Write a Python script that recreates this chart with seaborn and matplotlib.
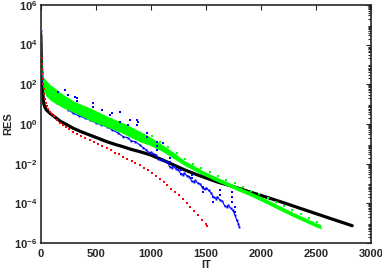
import numpy as np
import pandas as pd
import matplotlib
matplotlib.use("Agg")
import matplotlib.pyplot as plt
from matplotlib.ticker import LogLocator, NullFormatter, FixedLocator
import seaborn as sns

# Residual history, values are log10(RES)

black_it = [0, 5, 10, 15, 20, 27, 40, 52, 82, 120, 173, 230, 294, 370, 445, 520, 597, 680,
            748, 820, 900, 991, 1100, 1200, 1300, 1400, 1500, 1600, 1750, 1900, 2000, 2100,
            2200, 2350, 2500, 2650, 2830]
black_log = [4.5, 3.0, 2.3, 1.75, 1.4, 1.0, 0.8, 0.7, 0.54, 0.38, 0.15, -0.02, -0.22, -0.4,
             -0.56, -0.72, -0.89, -1.04, -1.15, -1.28, -1.40, -1.55, -1.80, -2.05, -2.30,
             -2.52, -2.72, -2.92, -3.16, -3.43, -3.6, -3.78, -3.96, -4.24, -4.52, -4.8, -5.13]

red_it = [0, 2, 4, 6, 8, 10, 13, 16, 20, 25, 30, 36, 45, 55, 68, 82, 100, 120, 145, 173,
          200, 230, 260, 294, 330, 365, 400, 445, 480, 520, 560, 597, 635, 675, 710, 748,
          785, 825, 860, 900, 940, 975, 1010, 1045, 1080, 1115, 1150, 1185, 1220, 1255,
          1290, 1325, 1360, 1395, 1430, 1465, 1500, 1510]
red_log = [4.7, 4.2, 3.7, 3.3, 3.0, 2.75, 2.5, 2.25, 2.0, 1.75, 1.5, 1.25, 1.05, 0.9, 0.75,
           0.62, 0.5, 0.38, 0.22, 0.05, -0.06, -0.17, -0.28, -0.39, -0.49, -0.59, -0.69,
           -0.81, -0.91, -1.02, -1.12, -1.23, -1.33, -1.44, -1.54, -1.65, -1.75, -1.86,
           -1.96, -2.07, -2.20, -2.32, -2.46, -2.61, -2.77, -2.93, -3.1, -3.27, -3.43,
           -3.6, -3.8, -3.98, -4.17, -4.38, -4.6, -4.82, -5.05, -5.12]

green_it = [0, 3, 6, 10, 15, 20, 30, 50, 80, 118, 160, 200, 250, 300, 375, 450, 525, 600,
            675, 750, 825, 900, 990, 1100, 1200, 1300, 1400, 1500, 1600, 1700, 1800, 1900,
            2000, 2100, 2200, 2300, 2400, 2500, 2545]
green_hi = [4.85, 4.2, 3.6, 3.0, 2.6, 2.4, 2.3, 2.18, 2.0, 1.85, 1.66, 1.5, 1.32, 1.15,
            0.97, 0.8, 0.6, 0.4, 0.22, 0.05, -0.16, -0.37, -0.64, -1.03, -1.4, -1.83,
            -2.13, -2.43, -2.68, -2.93, -3.18, -3.41, -3.66, -3.93, -4.21, -4.48, -4.73, -4.98,
            -5.08]
green_lo = [4.5, 3.8, 3.1, 2.5, 2.1, 1.8, 1.6, 1.4, 1.22, 1.08, 0.95, 0.82, 0.7, 0.57, 0.38,
            0.17, 0.0, -0.16, -0.32, -0.49, -0.7, -0.9, -1.08, -1.37, -1.72, -2.07, -2.37,
            -2.64, -2.9, -3.14, -3.39, -3.62, -3.88, -4.15, -4.42, -4.69, -4.94, -5.19, -5.29]

spike_it = [1010, 1085, 1160, 1235, 1310, 1385, 1460, 1535, 1610, 1685, 1760, 1835, 1910,
            1985, 2060, 2135, 2210, 2285, 2360, 2435, 2510]
spike_log = [-0.62, -0.9, -1.17, -1.47, -1.78, -2.0, -2.23, -2.44, -2.62, -2.81, -3.0,
             -3.18, -3.36, -3.54, -3.74, -3.94, -4.16, -4.36, -4.55, -4.74, -4.92]

blue_it = [0, 5, 10, 20, 35, 60, 100, 150, 200, 250, 294, 350, 400, 445, 500, 550, 597, 650,
           700, 748, 790, 820, 860, 900, 930, 960, 985, 1000, 1020, 1045, 1065, 1090, 1105,
           1125, 1150, 1170, 1190, 1205, 1225, 1250, 1270, 1290, 1305, 1325, 1350, 1370,
           1390, 1405, 1425, 1450, 1470, 1490, 1505, 1525, 1550, 1570, 1590, 1605, 1625,
           1650, 1670, 1690, 1705, 1725, 1745, 1765, 1780, 1795, 1803]
blue_log = [4.7, 3.3, 2.6, 2.0, 1.7, 1.45, 1.25, 1.05, 0.9, 0.72, 0.54, 0.4, 0.3, 0.2, 0.05,
            -0.05, -0.14, -0.3, -0.45, -0.64, -0.7, -0.85, -0.9, -1.06, -1.2, -1.31, -1.45,
            -1.42, -1.5, -1.55, -1.78, -1.82, -1.76, -1.88, -1.93, -2.15, -2.2, -2.12, -2.25,
            -2.3, -2.5, -2.55, -2.48, -2.6, -2.65, -2.88, -2.93, -2.85, -2.98, -3.03, -3.25,
            -3.3, -3.22, -3.35, -3.5, -3.7, -3.76, -3.68, -3.82, -3.9, -4.12, -4.18, -4.1,
            -4.25, -4.35, -4.6, -4.85, -5.02, -5.18]

blue_out_it = [157, 218, 248, 309, 324, 330, 476, 476, 560, 627, 642, 718, 718, 794, 809,
               870, 870, 885, 961, 961, 1055, 1055, 1055, 1112, 1173, 1173, 1273, 1273, 1370,
               1370, 1473, 1473, 1564, 1564, 1627, 1627, 1736, 1736, 1736, 1764, 1764]
blue_out_log = [1.63, 1.71, 1.46, 1.38, 1.3, 1.15, 1.04, 0.87, 0.7, 0.45, 0.54, 0.62, 0.12,
                -0.05, 0.2, 0.2, -0.05, 0.12, -0.64, -0.45, -0.9, -1.1, -1.3, -0.96, -1.7,
                -1.9, -2.3, -2.5, -2.55, -2.75, -3.2, -3.45, -3.7, -3.95, -3.35, -3.6, -3.45,
                -3.7, -3.95, -4.2, -4.45]

black = pd.DataFrame({"IT": black_it, "RES": np.power(10.0, black_log)})
red = pd.DataFrame({"IT": red_it, "RES": np.power(10.0, red_log)})
blue = pd.DataFrame({"IT": blue_it, "RES": np.power(10.0, blue_log)})
blue_out = pd.DataFrame({"IT": blue_out_it, "RES": np.power(10.0, blue_out_log)})
spikes = pd.DataFrame({"IT": spike_it, "RES": np.power(10.0, spike_log)})

sns.set_style("white")
plt.rcParams["font.family"] = ["Liberation Sans", "DejaVu Sans"]
plt.rcParams["mathtext.fontset"] = "custom"
plt.rcParams["mathtext.rm"] = "Liberation Sans:bold"
plt.rcParams["mathtext.bf"] = "Liberation Sans:bold"
plt.rcParams["mathtext.it"] = "Liberation Sans:bold"

fig = plt.figure(figsize=(3.82, 2.73), dpi=100)
ax = fig.add_axes([0.107, 0.110, 0.864, 0.872])
ax.set_yscale("log")

sns.lineplot(data=black, x="IT", y="RES", color="black", linewidth=2.3, ax=ax,
             estimator=None, sort=False, zorder=2)
sns.lineplot(data=blue, x="IT", y="RES", color="#0000ff", linewidth=0.8, marker="s",
             markersize=1.4, markeredgewidth=0, ax=ax, estimator=None, sort=False, zorder=3)
ax.fill_between(green_it, np.power(10.0, green_lo), np.power(10.0, green_hi),
                color="#00ff00", linewidth=0, zorder=4)
sns.scatterplot(data=spikes, x="IT", y="RES", color="#00ff00", marker="s", s=2.5,
                linewidth=0, ax=ax, zorder=4)
sns.scatterplot(data=blue_out, x="IT", y="RES", color="#0000ff", marker="s", s=2.2,
                linewidth=0, ax=ax, zorder=5)
sns.scatterplot(data=red, x="IT", y="RES", color="#ff0000", marker="s", s=4.5,
                linewidth=0, ax=ax, zorder=6)

ax.set_xlim(0, 3000)
ax.set_ylim(1e-6, 1e6)
ax.set_xticks([0, 500, 1000, 1500, 2000, 2500, 3000])
ax.set_xticklabels(["0", "500", "1000", "1500", "2000", "2500", "3000"], fontweight="bold")
major = [10.0 ** k for k in range(-6, 7, 2)]
ax.yaxis.set_major_locator(FixedLocator(major))
ax.set_yticklabels([r"$10^{%d}$" % k for k in range(-6, 7, 2)])
ax.yaxis.set_minor_locator(LogLocator(base=10, subs=np.arange(2, 10), numticks=200))
ax.yaxis.set_minor_formatter(NullFormatter())

ax.tick_params(which="both", direction="in", top=True, right=True, labelsize=8,
               colors="#262626", width=0.8)
ax.tick_params(which="major", length=3.5)
ax.tick_params(axis="x", pad=4)
ax.tick_params(axis="y", pad=2.5)
ax.tick_params(which="minor", length=2)
for s in ax.spines.values():
    s.set_linewidth(1.2)
    s.set_color("#262626")

ax.set_xlabel("IT", fontsize=8, fontweight="bold", color="#262626", labelpad=1)
ax.set_ylabel("RES", fontsize=8, fontweight="bold", color="#262626", labelpad=1)

fig.savefig("out.png", dpi=100)
